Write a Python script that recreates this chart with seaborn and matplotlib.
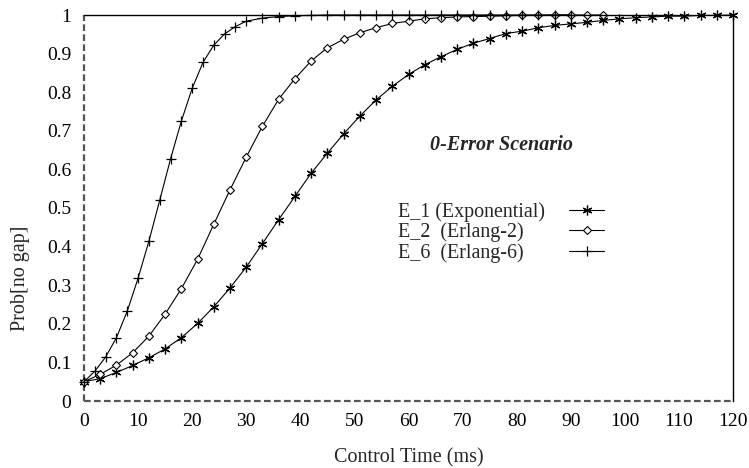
import numpy as np
import pandas as pd
import matplotlib
matplotlib.use("Agg")
import matplotlib.pyplot as plt
import seaborn as sns
from matplotlib.ticker import FuncFormatter

# ---- data ----
x_e1 = [0, 3, 6, 9, 12, 15, 18, 21, 24, 27, 30, 33, 36, 39, 42, 45, 48, 51, 54, 57,
        60, 63, 66, 69, 72, 75, 78, 81, 84, 87, 90, 93, 96, 99, 102, 105, 108, 111,
        114, 117, 120]
y_e1 = [0.05, 0.058, 0.074, 0.092, 0.112, 0.135, 0.164, 0.201, 0.244, 0.293, 0.347,
        0.408, 0.470, 0.530, 0.590, 0.642, 0.692, 0.738, 0.780, 0.815, 0.846, 0.871,
        0.892, 0.911, 0.927, 0.939, 0.952, 0.958, 0.967, 0.973, 0.977, 0.981, 0.986,
        0.990, 0.993, 0.995, 0.997, 0.997, 0.999, 0.999, 1.0]

x_e2 = [0, 3, 6, 9, 12, 15, 18, 21, 24, 27, 30, 33, 36, 39, 42, 45, 48, 51, 54, 57,
        60, 63, 66, 69, 72, 75, 78, 81, 84, 87, 90, 93, 96]
y_e2 = [0.05, 0.069, 0.093, 0.125, 0.168, 0.225, 0.291, 0.367, 0.458, 0.547, 0.632,
        0.712, 0.782, 0.835, 0.881, 0.915, 0.937, 0.954, 0.967, 0.978, 0.984, 0.990,
        0.993, 0.995, 0.996, 0.997, 0.998, 0.999, 0.999, 1.0, 1.0, 1.0, 1.0]

x_e6 = [0, 2, 4, 6, 8, 10, 12, 14, 16, 18, 20, 22, 24, 26, 28, 30, 33, 36, 39, 42,
        45, 48, 51, 54, 57, 60, 63, 66, 69, 72, 75, 78, 81, 84, 87, 90]
y_e6 = [0.05, 0.077, 0.114, 0.164, 0.233, 0.318, 0.414, 0.520, 0.627, 0.725, 0.810,
        0.877, 0.922, 0.951, 0.970, 0.984, 0.992, 0.996, 0.998, 0.999, 1.0, 1.0, 1.0,
        1.0, 1.0, 1.0, 1.0, 1.0, 1.0, 1.0, 1.0, 1.0, 1.0, 1.0, 1.0, 1.0]

labels = ["E_1 (Exponential)", "E_2  (Erlang-2)", "E_6  (Erlang-6)"]
x_ticks = list(range(0, 121, 10))
y_ticks = [0, 0.1, 0.2, 0.3, 0.4, 0.5, 0.6, 0.7, 0.8, 0.9, 1.0]
title_text = "0-Error Scenario"
xlabel_text = "Control Time (ms)"
ylabel_text = "Prob[no gap]"

# ---- style ----
sns.set_style("white")
plt.rcParams["font.family"] = ["Liberation Serif", "DejaVu Serif"]

DPI = 100
fig = plt.figure(figsize=(7.49, 4.68), dpi=DPI)
ax = fig.add_axes([84 / 749, 1 - 401 / 468, (733 - 84) / 749, (401 - 15) / 468])

common = dict(color="black", linewidth=0.8, clip_on=False, ax=ax,
              estimator=None, sort=False)
sns.lineplot(x=x_e1, y=y_e1, marker=(6, 2, 0), markersize=7, markeredgewidth=0.9,
             markeredgecolor="black", label=labels[0], **common)
sns.lineplot(x=x_e2, y=y_e2, marker="D", markersize=4.3, markeredgewidth=0.8,
             markerfacecolor="white", markeredgecolor="black", label=labels[1], **common)
sns.lineplot(x=x_e6, y=y_e6, marker="+", markersize=6.5, markeredgewidth=0.9,
             markeredgecolor="black", label=labels[2], **common)

ax.set_xlim(0, 120)
ax.set_ylim(0, 1)
ax.set_xticks(x_ticks)
ax.set_yticks(y_ticks)
ax.yaxis.set_major_formatter(FuncFormatter(lambda v, p: f"{v:g}"))
ax.tick_params(axis="both", direction="out", length=6, width=1, color="#555555",
               labelsize=14, pad=3, labelcolor="black")

# spines: top and right solid black; left/bottom dashed gray
for s in ["top", "right"]:
    ax.spines[s].set_color("black")
    ax.spines[s].set_linewidth(1)
for s in ["left", "bottom"]:
    ax.spines[s].set_visible(False)
ax.axvline(0, color="#555555", linewidth=1.6, linestyle=(0, (3, 1.5)), zorder=1,
           clip_on=False)
ax.axhline(0, color="#555555", linewidth=1.6, linestyle=(0, (3, 1.5)), zorder=1,
           clip_on=False)

ax.set_xlabel(xlabel_text, fontsize=14.5, labelpad=12.5)
ax.set_ylabel(ylabel_text, fontsize=14.5, labelpad=12)
ax.yaxis.set_label_coords(-0.098, 0.319)
ax.yaxis.label.set_va("center")

ax.text(77.2, 0.662, title_text, fontsize=14.5, fontweight="bold", style="italic",
        ha="center", va="center")

leg = ax.legend(loc="upper left", bbox_to_anchor=((398 - 84) / 649, (401 - 202) / 386),
                frameon=False, markerfirst=False, fontsize=14.4, handlelength=1.75,
                handletextpad=1.2, labelspacing=0.05, borderpad=0.0, borderaxespad=0.0)

# left-align label texts while keeping the sample lines in one column
fig.canvas.draw()
renderer = fig.canvas.get_renderer()
col = leg._legend_handle_box.get_children()[0]
rows = col.get_children()
widths = [t.get_window_extent(renderer).width for t in leg.get_texts()]
maxw = max(widths)
col.align = "left"
for row, w in zip(rows, widths):
    row.sep = row.sep + (maxw - w) * 72 / DPI

fig.savefig("out.png", dpi=DPI)
